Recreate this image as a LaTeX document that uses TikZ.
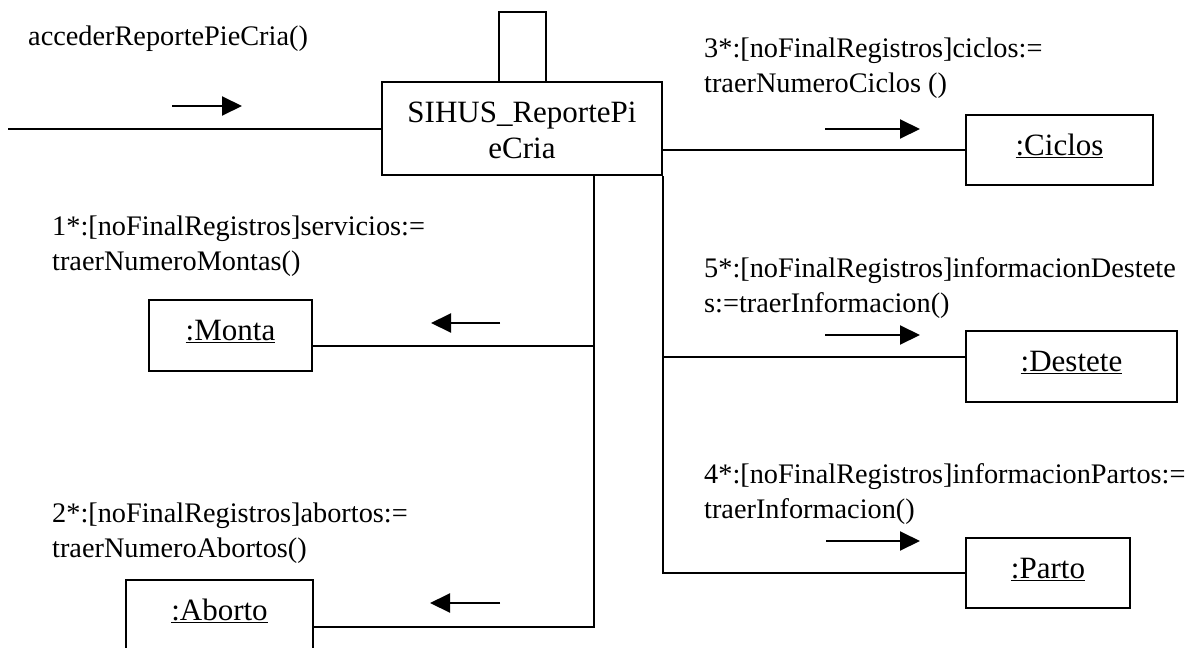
\documentclass[tikz,border=0pt]{standalone}
\usepackage{fontspec}
\setmainfont{Liberation Serif}
\usetikzlibrary{arrows.meta,calc}
\tikzset{
  lab/.style={anchor=base west, inner sep=0pt, font=\fontsize{28.3}{35}\selectfont},
  box/.style={draw, line width=2pt, inner sep=0pt, font=\fontsize{31}{36}\selectfont},
  obj/.style={box, text height=21pt, text depth=11pt},
  link/.style={line width=2pt},
  msg/.style={line width=2pt, -{Triangle[length=20pt,width=19pt]}},
}
\newcommand{\twolines}[2]{\begin{tabular}[t]{@{}l@{}}#1\\#2\end{tabular}}
\begin{document}
\begin{tikzpicture}[x=1pt,y=-1pt]
\useasboundingbox[fill=white] (0,0) rectangle (1200,648);

% objects
\node[box, minimum width=47pt, minimum height=71pt] (selfbox) at (522.5,47.5) {};
\node[box, fill=white, minimum width=280pt, minimum height=93pt] (main) at (522,128.5)
  {\raisebox{-5pt}[25.2pt][46.8pt]{\begin{tabular}[t]{@{}c@{}}SIHUS\_ReportePi\\eCria\end{tabular}}};
\node[obj, minimum width=187pt, minimum height=70pt] (ciclos) at (1059.5,150) {\underline{:Ciclos}};
\node[obj, minimum width=211pt, minimum height=71pt] (destete) at (1071.5,366.5) {\underline{:Destete}};
\node[obj, minimum width=164pt, minimum height=70pt] (parto) at (1048,573) {\underline{:Parto}};
\node[obj, minimum width=163pt, minimum height=71pt] (monta) at (230.5,335.5) {\underline{:Monta}};
\node[obj, minimum width=187pt, minimum height=70pt] (aborto) at (219.5,615) {\underline{:Aborto}};

% connectors
\coordinate (entry) at (8,128.5);
\draw[link] (entry) -- (main.west);
\draw[link] (main.east |- ciclos.west) -- (ciclos.west);
\draw[link] (main.south east) |- (parto.west);
\coordinate (dj) at (662,357);
\draw[link] (dj) -- (dj -| destete.west);
\coordinate (ltop) at (594,175);
\coordinate (mj) at (594,346);
\coordinate (aj) at (594,627);
\draw[link] (ltop) -- (aj) -- (aj -| aborto.east);
\draw[link] (mj) -- (mj -| monta.east);

% message arrows
\draw[msg] (172,106) -- (242,106);
\draw[msg] (825,129) -- (920,129);
\draw[msg] (825,335) -- (920,335);
\draw[msg] (826,541) -- (920,541);
\draw[msg] (500,323) -- (431,323);
\draw[msg] (500,603) -- (430,603);

% labels
\node[lab] (l0) at (28,45) {accederReportePieCria()};
\node[lab] (l1) at (52,235) {\twolines{1*:[noFinalRegistros]servicios:=}{traerNumeroMontas()}};
\node[lab] (l2) at (52,522) {\twolines{2*:[noFinalRegistros]abortos:=}{traerNumeroAbortos()}};
\node[lab] (l3) at (704,57) {\twolines{3*:[noFinalRegistros]ciclos:=}{traerNumeroCiclos ()}};
\node[lab] (l5) at (704,277) {\twolines{5*:[noFinalRegistros]informacionDestete}{s:=traerInformacion()}};
\node[lab] (l4) at (704,483) {\twolines{4*:[noFinalRegistros]informacionPartos:=}{traerInformacion()}};
\end{tikzpicture}
\end{document}
